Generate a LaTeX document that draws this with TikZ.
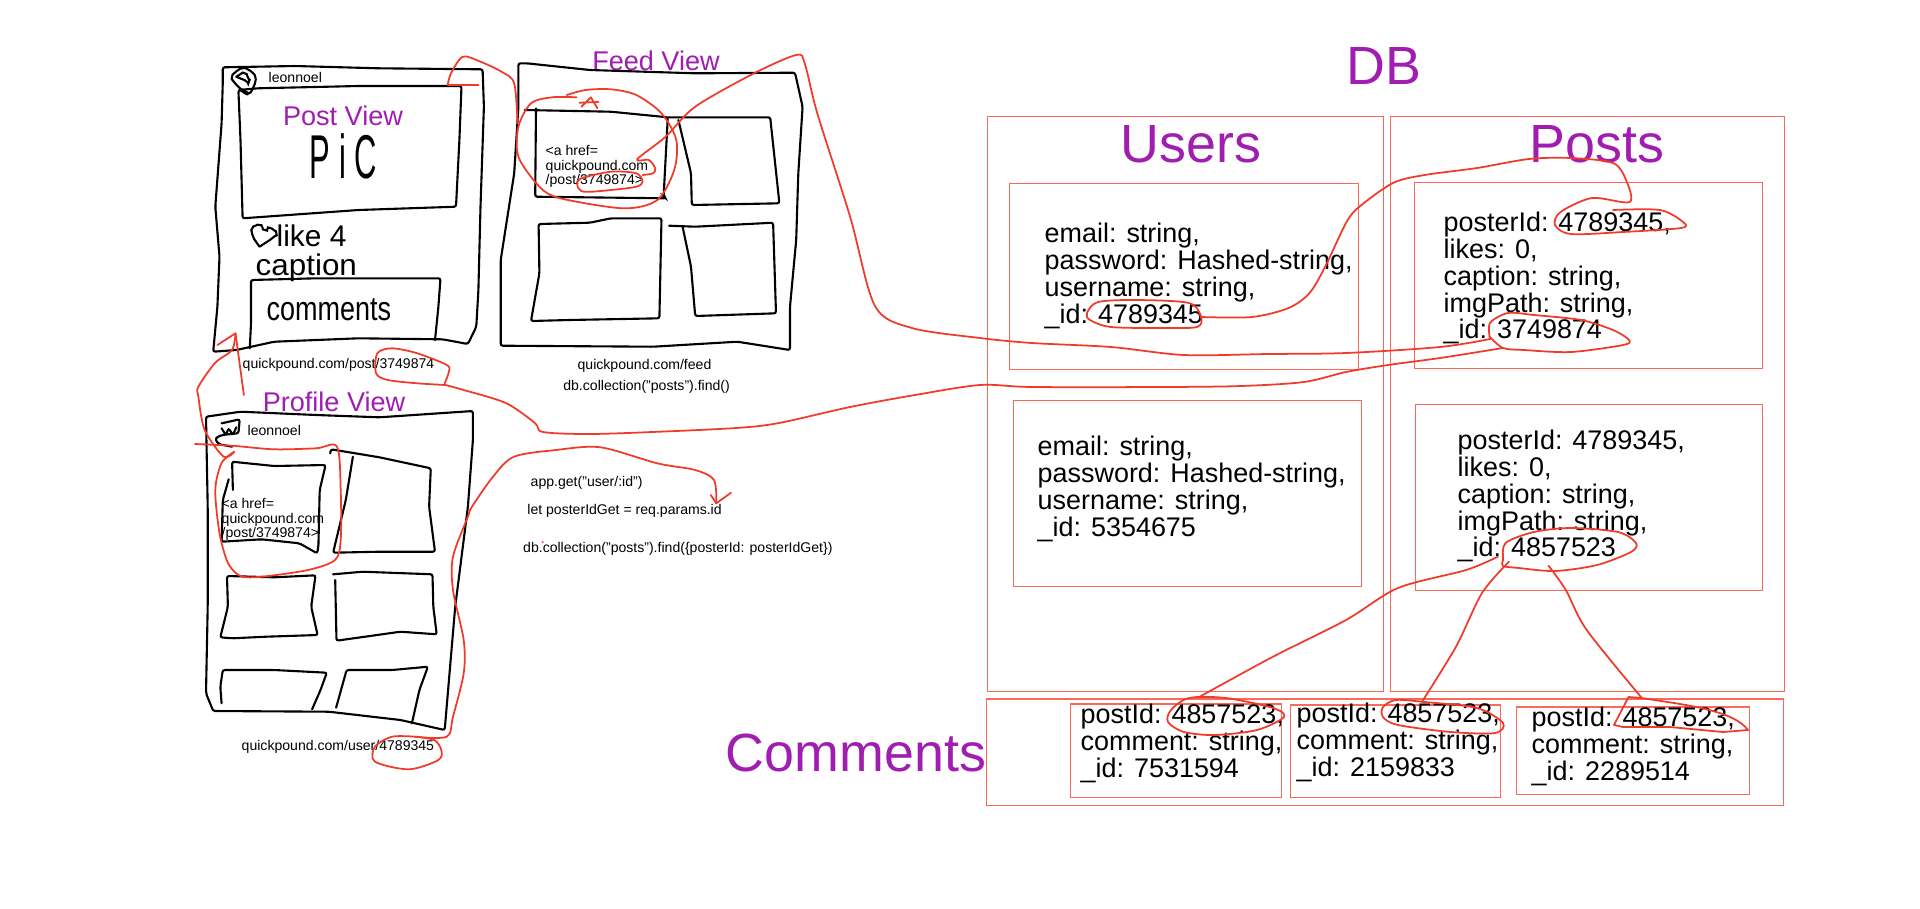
\documentclass[tikz,border=0pt]{standalone}
\usepackage{fontspec}
\setmainfont{Liberation Sans}
\usepackage{tikz}
\usetikzlibrary{calc,positioning}
\definecolor{inkred}{HTML}{F03A2A}
\definecolor{boxred}{HTML}{FA6A5A}
\definecolor{viewpurple}{HTML}{A11DB2}
\tikzset{
    sketch/.style={black, line width=0.6pt, rounded corners=0.6pt, line cap=round},
    redink/.style={inkred, line width=0.5pt, line cap=round, line join=round},
    dbbox/.style={draw=boxred, line width=0.3pt, inner sep=0pt},
    bigtitle/.style={viewpurple, font=\fontsize{15.3}{16}\selectfont},
    viewtitle/.style={viewpurple, font=\fontsize{7.7}{8}\selectfont},
    fieldtext/.style={anchor=west, align=left, inner sep=0pt, font=\fontsize{7.66}{7.66}\selectfont},
    smalltext/.style={inner sep=0pt, font=\fontsize{4}{4.12}\selectfont},
    handtext/.style={inner sep=0pt, font=\fontsize{8.5}{9}\selectfont}
}
\begin{document}
\begin{tikzpicture}[x=0.01cm, y=-0.01cm]
        \useasboundingbox (0,0) rectangle (1920,908);

        % database boxes
        \node[dbbox, minimum width=3.95cm, minimum height=5.74cm] (usersbox) at (1185.5,404) {};
        \node[dbbox, minimum width=3.93cm, minimum height=5.74cm] (postsbox) at (1587.5,404) {};
        \node[dbbox, minimum width=3.48cm, minimum height=1.85cm] (userA) at (1184,276.5) {};
        \node[dbbox, minimum width=3.47cm, minimum height=1.85cm] (userB) at (1187.5,493.5) {};
        \node[dbbox, minimum width=3.47cm, minimum height=1.85cm] (postA) at (1588.5,275.5) {};
        \node[dbbox, minimum width=3.46cm, minimum height=1.85cm] (postB) at (1589,497.5) {};
        \node[dbbox, minimum width=7.96cm, minimum height=1.06cm] (commentsbox) at (1385,752) {};
        \node[dbbox, minimum width=2.105cm, minimum height=0.93cm] (commentA) at (1175.75,750.5) {};
        \node[dbbox, minimum width=2.09cm, minimum height=0.92cm] (commentB) at (1395.5,751) {};
        \node[dbbox, minimum width=2.33cm, minimum height=0.87cm] (commentC) at (1633.3,750.5) {};

        \node[bigtitle] (dbtitle) at (1384,66) {DB};
        \node[bigtitle] (userstitle) at (1191,144) {Users};
        \node[bigtitle] (poststitle) at (1597,144) {Posts};
        \node[bigtitle] (commentstitle) at (856,753) {Comments};
        \node[viewtitle] (posttitle) at (343,116) {Post View};
        \node[viewtitle] (feedtitle) at (656,61) {Feed View};
        \node[viewtitle] (profiletitle) at (334,402) {Profile View};

        \node[fieldtext] (userAtext) at (1044,275.5) {email: string,\\password: Hashed-string,\\username: string,\\\_id: 4789345};
        \node[fieldtext] (userBtext) at (1037,488.5) {email: string,\\password: Hashed-string,\\username: string,\\\_id: 5354675};
        \node[fieldtext] (postAtext) at (1443,278) {posterId: 4789345,\\likes: 0,\\caption: string,\\imgPath: string,\\\_id: 3749874};
        \node[fieldtext] (postBtext) at (1457,496) {posterId: 4789345,\\likes: 0,\\caption: string,\\imgPath: string,\\\_id: 4857523};
        \node[fieldtext] (commentAtext) at (1080,743.5) {postId: 4857523,\\comment: string,\\\_id: 7531594};
        \node[fieldtext] (commentBtext) at (1296,742.5) {postId: 4857523,\\comment: string,\\\_id: 2159833};
        \node[fieldtext] (commentCtext) at (1531,746) {postId: 4857523,\\comment: string,\\\_id: 2289514};

        \node[smalltext, anchor=west] (postname) at (268,77) {leonnoel};
        \node[smalltext, anchor=west] (profilename) at (247,430) {leonnoel};
        \node[smalltext, anchor=west, align=left] (feedlink) at (545,166.5) {<a href=\\quickpound.com\\/post/3749874>};
        \node[smalltext, anchor=west, align=left] (profilelink) at (221,519.5) {<a href=\\quickpound.com\\/post/3749874>};
        \node[smalltext, anchor=west] (posturl) at (242,365) {quickpound.com/post/3749874};
        \node[smalltext] (feedurl) at (644.5,366) {quickpound.com/feed};
        \node[smalltext] (feedquery) at (646.6,387) {db.collection("posts").find()};
        \node[smalltext, anchor=west] (userurl) at (241,747) {quickpound.com/user/4789345};
        \node[smalltext, anchor=west] (routetext) at (530,483) {app.get("user/:id")};
        \node[smalltext, anchor=west] (paramtext) at (526.7,511) {let posterIdGet = req.params.id};
        \node[smalltext, anchor=west] (profilequery) at (522.5,549) {db.collection("posts").find(\{posterId: posterIdGet\})};

        \node[handtext, font=\fontsize{17.6}{18}\selectfont, xscale=0.5] (pictext) at (343.5,156) {P i C};
        \node[handtext, anchor=west] (liketext) at (276,236) {like 4};
        \node[handtext, anchor=west, xscale=1.05] (captiontext) at (255,268) {caption};
        \node[handtext, font=\fontsize{9.6}{10}\selectfont, xscale=0.8, anchor=west] (commenttext) at (266,310) {comments};

        % post view
        \draw[sketch] (222.8,81.7) -- (222.8,67.3) -- (295,66) -- (379,68.3) -- (482.6,69.3) -- (483.9,106.7) -- (480.5,206.7) -- (478.4,290) -- (476.3,326.7) -- (467.9,344) -- (442.6,339.3) -- (358.4,338.3) -- (274.2,341.7) -- (236.3,350) -- (213.2,351.7) -- (217.4,306.7) -- (219.5,256.7) -- (215.3,206.7) -- (221.6,123.3) -- cycle;
        \draw[sketch] (238.4,90) -- (257.4,88.3) -- (358.4,86) -- (461.5,86) -- (459.4,140) -- (456,206.7) -- (358.4,210) -- (242.6,218.3) -- (240.5,140) -- cycle;
        \draw[sketch] (249.8,348.3) -- (251,323.3) -- (251,280) -- (316.3,278.3) -- (440.5,278.3) -- (438.4,306.7) -- (435,340);
        \draw[sketch] plot[smooth] coordinates {(248.9,93.3) (238.4,86.7) (232.1,76.7) (242.6,68.3) (253.2,73.3) (255.3,81.7) (248.9,93.3) (240,90)};
        \draw[sketch] plot[smooth] coordinates {(236.3,76.7) (244.7,73.3) (248.9,81.7) (242.6,79.3) (236.3,76.7)};
        \draw[sketch] plot[smooth] coordinates {(259.5,246.7) (253.2,236.7) (252.3,228.3) (259.5,225) (265,230) (270,228) (276.3,233.3) (272,238.3) (259.5,246.7)};

        % feed view
        \draw[sketch] (518.4,63.3) -- (526.8,63.3) -- (590,70) -- (695.2,73.3) -- (795,72.7) -- (802.6,106.7) -- (798.3,173.3) -- (796.2,240) -- (790,306.7) -- (790,350) -- (737.3,341.7) -- (653.1,346.7) -- (500.7,345.7) -- (500.7,260) -- (514.2,173.3) -- (518.4,106.7) -- cycle;
        \draw[sketch] (524.7,110) -- (611,111.7) -- (667.8,117.3) -- (663.6,196.7) -- (665.7,198.3) -- (535.2,196.7) -- (536,108.3);
        \draw[sketch] (667.8,117.3) -- (770.2,117.3) -- (779.4,203.3) -- (691.8,205) -- (691,173.3) -- (678.4,120);
        \draw[sketch] (538.6,224) -- (590,222.7) -- (611,218.3) -- (661.5,218.3) -- (659.4,318.3) -- (568.9,320) -- (531,321) -- (539.4,273.3) -- cycle;
        \draw[sketch] (669.1,225.7) -- (695.2,226.7) -- (773.1,222.7) -- (776,313.3) -- (695.2,316) -- (691,266.7) -- (682.6,226.7);

        % profile view
        \draw[sketch] (206,416.7) -- (240.5,411.7) -- (316.3,415) -- (379.5,417.3) -- (472.9,411) -- (472.9,440) -- (467.9,506.7) -- (455.2,606.7) -- (444.7,730) -- (400.5,720) -- (328.9,711.7) -- (213.2,711) -- (206,693.3) -- (207.7,606.7) -- (207.7,506.7) -- cycle;
        \draw[sketch] (221.6,423.3) -- (239.7,419.3) -- (238.4,433.3) -- (221.6,435) -- (215.3,438.3) -- (218,444) -- (232.1,446.7);
        \draw[sketch] (221.6,428.3) -- (225.8,435) -- (228.7,428.3) -- (232.9,435) -- (236.3,427.3);
        \draw[sketch] (232.9,490) -- (232.1,461.7) -- (274.2,466) -- (325.6,465) -- (319.7,490) -- (318.4,546.7) -- (317.1,553.3) -- (299.5,543.3) -- (261.6,539.3) -- (221.6,541.7) -- (222.8,500) -- (228.7,479.3);
        \draw[sketch] (330.2,453.3) -- (331,449.3) -- (379.5,457.3) -- (430.8,468.3) -- (429.1,506.7) -- (435,551.7) -- (379.5,551.7) -- (333.1,552.7) -- (345.8,500) -- (352.9,456.7);
        \draw[sketch] (227,576) -- (274.2,577.3) -- (315.5,575.3) -- (311.2,606.7) -- (317.6,635) -- (265.8,636.7) -- (232.1,638.3) -- (220.3,637.3) -- (227.9,606.7) -- cycle;
        \draw[sketch] (333.1,574.3) -- (362.6,571.7) -- (432.5,574.3) -- (433.3,606.7) -- (436.7,634.3) -- (400.5,631.7) -- (336.5,640.7) -- (335.2,580);
        \draw[sketch] (221.6,703.3) -- (220.3,686.7) -- (222.8,670) -- (274.2,670) -- (326.8,672.7) -- (320.5,690) -- (312.1,709.3);
        \draw[sketch] (336.1,707.7) -- (346.6,670) -- (392.1,670) -- (427.9,666.7) -- (419.4,690) -- (411.9,723.3);

        % free ends of the red strokes
        \coordinate (postmark) at (447.7,85);
        \coordinate (feedstart) at (517.5,123.3);
        \coordinate (feedhook) at (642.6,175);
        \coordinate (postAid) at (1490,339);
        \coordinate (postAidlow) at (1503,348);
        \coordinate (urloval) at (445.5,385);
        \coordinate (profileloop) at (234.2,451.7);
        \coordinate (postmarktip) at (235.5,333.3);
        \coordinate (useroval) at (415.2,736.7);
        \coordinate (routetip) at (716.3,503.3);
        \coordinate (userAid) at (1201,317);
        \coordinate (posteroval) at (1629.6,202);
        \coordinate (postBleft) at (1497.8,556.7);
        \coordinate (postBmid) at (1509,561.7);
        \coordinate (postBlow) at (1548.5,565.7);
        \coordinate (commentAid) at (1199.7,696.7);
        \coordinate (commentBid) at (1422,701.7);
        \coordinate (commentCid) at (1641.6,697.7);

        % red strokes
        \draw[redink] plot[smooth] coordinates {(feedstart) (514.2,83.3) (501.5,71.7) (480.5,61.7) (462.8,56.7) (451,73.3) (postmark)};
        \draw[redink] (postmark) -- (478.4,85);
        \draw[redink] plot[smooth] coordinates {(576.5,97.3) (552.1,97.3) (531,103.3) (518.4,126.7) (518.4,156.7) (539.4,186.7) (560.5,198.3) (623.6,208.3) (657.3,200) (674.2,170) (676.3,140) (661.5,113.3) (636.3,95) (611,89.3) (585.7,90) (566.8,95)};
        \draw[redink] (581.5,106.7) -- (590.8,97.3) -- (597.5,108.3) (579.4,102.7) -- (598.4,102);
        \draw[redink] plot[smooth cycle] coordinates {(581.5,178.3) (611,171.7) (636.3,173.3) (642.6,181.7) (636.3,186.7) (611,190) (583.6,191.7) (577.3,185)};
        \draw[redink] plot[smooth] coordinates {(feedhook) (653.1,173.3) (655.2,168.3) (648.9,160) (637.1,159.3) (665.7,136.7) (695.2,106.7) (754.1,73.3) (796.2,55) (804.7,63.3) (817.3,113.3) (850.1,216.7) (875,306) (912,328) (980,338) (1032,343) (1111,347) (1184,355) (1268,354) (1346,353) (1440,347) (postAid)};
        \draw[redink] plot[smooth] coordinates {(postAid) (1490,323) (1508,313) (1534,315) (1581,320) (1613,330) (1629,340) (1623,345) (1571,352) (1524,350) (postAidlow) (1490,337)};
        \draw[redink] plot[smooth] coordinates {(postAidlow) (1440,358) (1388,365) (1346,372) (1304,382) (1241,386) (1163,387) (1032,387) (980,385) (915,395) (850,407) (779,423) (736,428) (652,432) (589,434) (543,432) (535,423) (505.8,403) (463.7,390) (urloval)};
        \draw[redink] plot[smooth] coordinates {(urloval) (417.3,383.3) (387.9,380) (376.1,373.3) (377.3,353.3) (392.1,348.3) (417.3,353.3) (446.8,365) (448.9,371.7) (444.7,383.3)};
        \draw[redink] plot[smooth] coordinates {(postmarktip) (232,350) (215,363) (198.4,386.7) (198.4,396.7) (204.7,430) (223.7,456.7) (profileloop)};
        \draw[redink] (217.4,345) -- (postmarktip) -- (243.9,395);
        \draw[redink] plot[smooth] coordinates {(195,444) (232,445.7) (274,449.3) (316,448.3) (337,446.7) (340.7,490) (340.7,540) (335,560) (308,570) (261.6,576.7) (240.5,576) (228,563) (219.5,533) (215.3,490) (221.6,463) (profileloop)};
        \draw[redink] plot[smooth] coordinates {(useroval) (392,736.7) (375,746.7) (375,761.7) (409,769.3) (438.4,760) (441.3,750) (434.2,740) (useroval)};
        \draw[redink] plot[smooth] coordinates {(useroval) (446.8,736.7) (453,716.7) (463.7,673.3) (463.7,640) (453,590) (453,556.7) (467.9,516.7) (472,506.7) (493,476.7) (514,456.7) (556,450) (600.5,447.3) (657.3,463.3) (695.2,470) (714,480) (routetip)};
        \draw[redink] (710.8,495) -- (routetip) -- (731,492.7);
        \fill[inkred] (542.7,542) circle (0.3pt);
        \draw[redink] plot[smooth cycle] coordinates {(1087,313) (1098,302) (1137,300) (1189,303) (userAid) (1197,327) (1163,328) (1111,327) (1090,320)};
        \draw[redink] plot[smooth] coordinates {(userAid) (1252,317) (1288.6,308) (1309.5,293) (1325,267) (1346,223) (1359,207) (1393,183) (1424.6,175) (1477,168) (1529,159) (1571,158) (1613,163) (1626,180) (posteroval) (1592,198) (1560.5,212) (1555,225) (1571,234) (1623,232) (1681,228) (1683,222) (1660,210) (1613,210)};
        \draw[redink] plot[smooth cycle] coordinates {(1503,560) (1505.6,543) (1534,532) (1571,528) (1618,532) (1636,543) (1631,552) (1597,565) (1555,571) (1519,568) (1503,566)};
        \draw[redink] plot[smooth] coordinates {(postBleft) (1466,570) (1398,588) (1346,620) (1273,656.7) (commentAid)};
        \draw[redink] plot[smooth] coordinates {(postBmid) (1482,593) (1456,646.7) (commentBid)};
        \draw[redink] plot[smooth] coordinates {(postBlow) (1565.8,590) (1586.7,630) (commentCid)};
        \draw[redink] plot[smooth cycle] coordinates {(1171,710) (1189,698) (1226,698) (1273,708) (1284,717) (1257,730) (1215,735) (1184,732) (1168,722)};
        \draw[redink] plot[smooth cycle] coordinates {(1383,707) (1396,700) (1424.6,702) (1477,708) (1503,723) (1495,733) (1451,732) (1398,725) (1383,717)};
        \draw[redink] (1614,725) -- (1628.5,697) -- (1641.6,698) .. controls (1686,705) and (1733,710) .. (1748,730) -- (1723,732) -- (1670,727) -- (1623,727) -- cycle;
    \end{tikzpicture}
\end{document}
